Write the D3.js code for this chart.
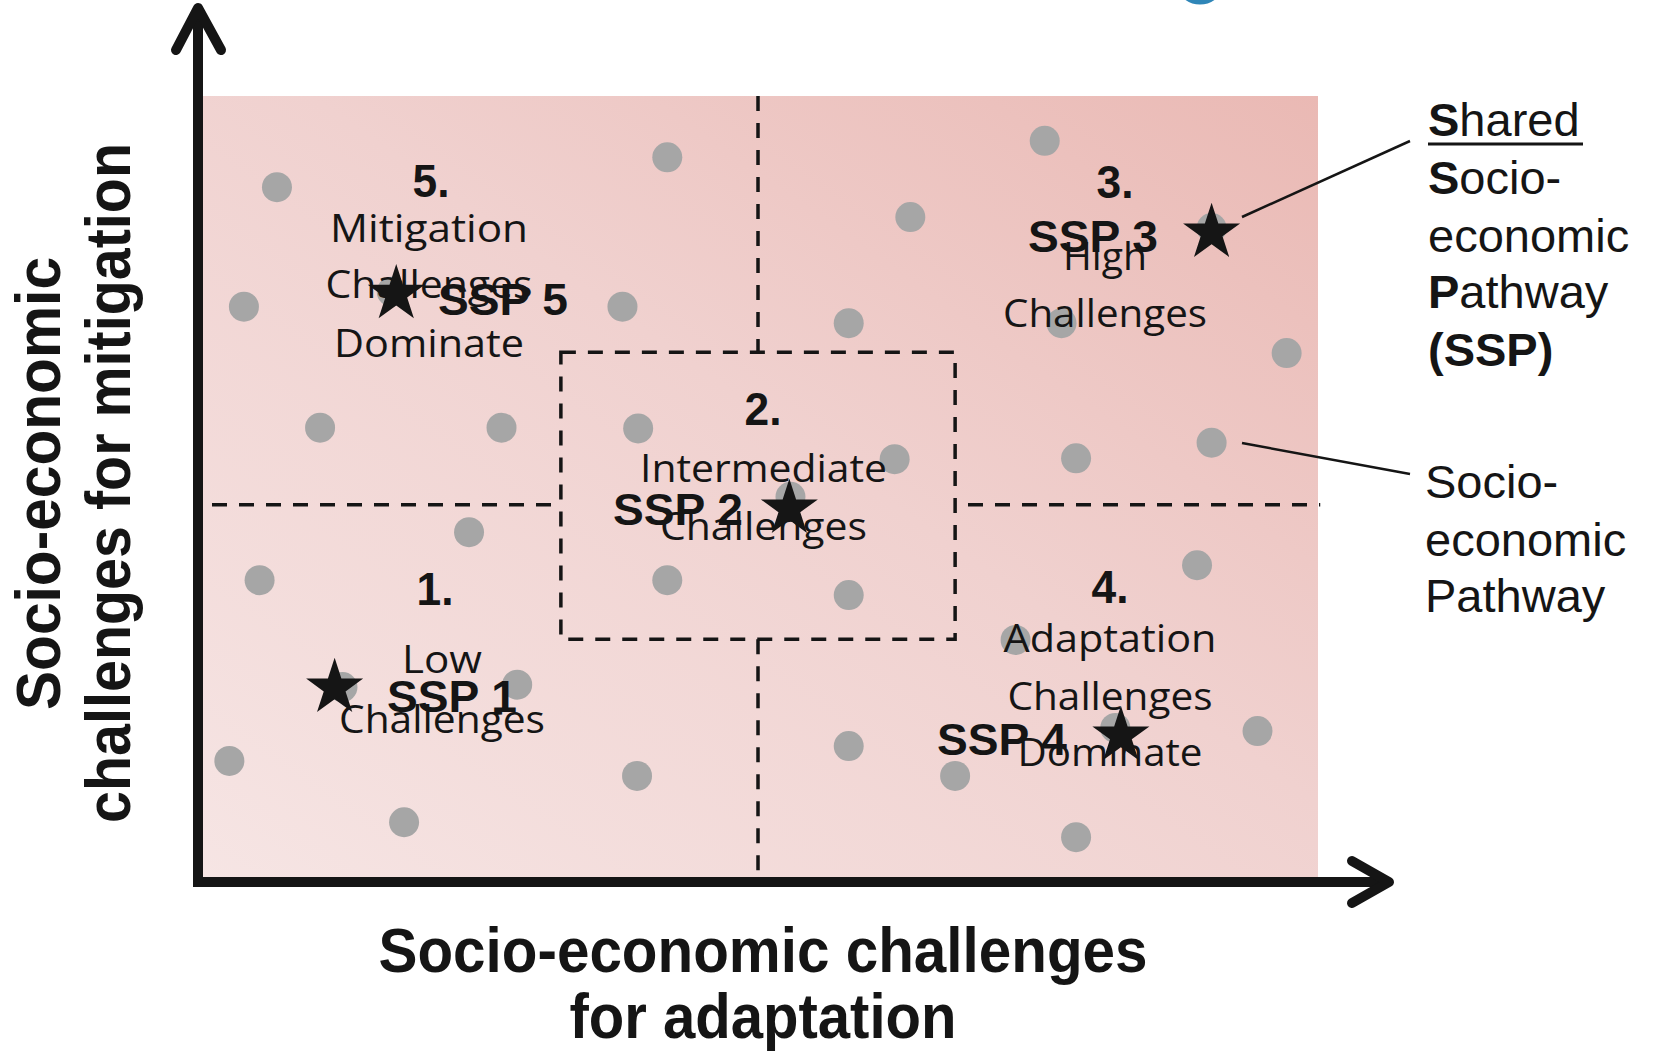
<!DOCTYPE html>
<html>
<head>
<meta charset="utf-8">
<script src="https://cdn.jsdelivr.net/npm/d3@7"></script>
<style>
  html, body { margin: 0; padding: 0; background: #fff; }
  svg { display: block; }
</style>
</head>
<body>
<div id="chart"></div>
<script>
// Socio-economic pathways (grey dots), in challenge units 0-100
const dotX = [7.05, 41.9, 4.1, 37.9, 10.9, 27.1, 39.3, 75.6, 63.6, 58.1, 77.1, 97.2,
  62.2, 78.4, 90.5, 24.2, 5.5, 41.9, 58.1, 89.2, 73.0, 28.5, 12.9, 2.8, 39.2, 18.4,
  58.1, 67.6, 78.4, 94.6, 81.9, 90.5, 52.9, 17.3];
const dotY = [88.4, 92.2, 73.2, 73.2, 57.8, 57.8, 57.7, 94.3, 84.6, 71.1, 71.1, 67.3,
  53.8, 53.9, 55.9, 44.5, 38.4, 38.4, 36.5, 40.3, 30.8, 25.1, 24.8, 15.4, 13.5, 7.6,
  17.3, 13.5, 5.7, 19.2, 19.6, 83.2, 49.0, 75.1];

// Shared pathways (stars)
const sspNames = ['SSP 1', 'SSP 2', 'SSP 3', 'SSP 4', 'SSP 5'];
const sspX = [12.2, 52.8, 90.5, 82.4, 17.7];
const sspY = [24.7, 47.5, 82.6, 18.6, 74.8];

// Quadrant / domain labels
const domainNums = ['1.', '2.', '3.', '4.', '5.'];
const domainText = [
  ['Low', 'Challenges'],
  ['Intermediate', 'Challenges'],
  ['High', 'Challenges'],
  ['Adaptation', 'Challenges', 'Dominate'],
  ['Mitigation', 'Challenges', 'Dominate']
];

// Partition of the space
const xSplit = 50;
const ySplit = 48;
const midBox = [32.4, 67.6, 30.9, 67.4]; // x0, x1, y0, y1

// Global constants
const W = 1655, H = 1051;
const plot = { left: 198, right: 1318, top: 96, bottom: 882 };

const x = d3.scaleLinear().domain([0, 100]).range([plot.left, plot.right]);
const y = d3.scaleLinear().domain([0, 100]).range([plot.bottom, plot.top]);

const ink = '#151515';

const svg = d3.select('#chart')
  .append('svg')
    .attr('width', W)
    .attr('height', H);

// background gradient
const defs = svg.append('defs');
const grad = defs.append('linearGradient')
  .attr('id', 'bg')
  .attr('x1', 0).attr('y1', 1)
  .attr('x2', 1).attr('y2', 0);
grad.append('stop').attr('offset', '0%').attr('stop-color', '#f6e5e4');
grad.append('stop').attr('offset', '55%').attr('stop-color', '#f0d1cf');
grad.append('stop').attr('offset', '100%').attr('stop-color', '#eab9b4');

svg.append('rect')
  .attr('x', x(0))
  .attr('y', y(100))
  .attr('width', x(100) - x(0))
  .attr('height', y(0) - y(100))
  .attr('fill', 'url(#bg)');

// little blue arc cut by the top edge
svg.append('ellipse')
  .attr('cx', 1200).attr('cy', -19)
  .attr('rx', 22).attr('ry', 21)
  .attr('fill', 'none')
  .attr('stroke', '#2f86b8')
  .attr('stroke-width', 5);

// dashed partition lines
const dashed = svg.append('g')
  .attr('fill', 'none')
  .attr('stroke', ink)
  .attr('stroke-width', 3.5)
  .attr('stroke-dasharray', '15,12');

const segs = [
  [xSplit, 100, xSplit, midBox[3]],
  [xSplit, midBox[2], xSplit, 0],
  [1.25, ySplit, midBox[0], ySplit],
  [midBox[1] + 1.15, ySplit, 100.2, ySplit]
];
dashed.selectAll('line')
  .data(segs)
  .enter().append('line')
    .attr('x1', d => x(d[0]))
    .attr('y1', d => y(d[1]))
    .attr('x2', d => x(d[2]))
    .attr('y2', d => y(d[3]));

dashed.append('rect')
  .attr('x', x(midBox[0]))
  .attr('y', y(midBox[3]))
  .attr('width', x(midBox[1]) - x(midBox[0]))
  .attr('height', y(midBox[2]) - y(midBox[3]));

// grey dots
svg.append('g')
  .selectAll('circle')
  .data(dotX.map((d, i) => [d, dotY[i]]))
  .enter().append('circle')
    .attr('cx', d => x(d[0]))
    .attr('cy', d => y(d[1]))
    .attr('r', 15)
    .attr('fill', '#a6a6a6');

// helper for fitted text
const label = (g, txt, px, py, opts) => {
  const t = g.append('text')
    .attr('x', px)
    .attr('y', py)
    .attr('text-anchor', opts.anchor || 'middle')
    .attr('font-family', opts.family)
    .attr('font-size', opts.size)
    .attr('font-weight', opts.weight || 'normal')
    .attr('fill', ink)
    .text(txt);
  if (opts.len) {
    t.attr('textLength', opts.len).attr('lengthAdjust', 'spacingAndGlyphs');
  }
  return t;
};

const calibriLike = { family: "'Open Sans', 'Noto Sans', sans-serif", size: 38 };
const boldSans = { family: "'Liberation Sans', Arial, sans-serif", size: 46, weight: 'bold' };

// domain label layout (pixel anchors, baselines)
const numPos = [[435, 605], [763, 425], [1115, 198], [1110, 603], [431, 197]];
const textPos = [
  { cx: 442, base: [673, 733], len: [80, 206] },
  { cx: 763.5, base: [482, 540], len: [247, 207] },
  { cx: 1105, base: [270, 327], len: [84, 204] },
  { cx: 1110, base: [652, 710, 766], len: [213, 205, 185] },
  { cx: 429, base: [242, 298, 357], len: [198, 207, 190] }
];

const labels = svg.append('g');
domainNums.forEach((n, i) => {
  label(labels, n, numPos[i][0], numPos[i][1], Object.assign({ len: 37 }, boldSans));
  domainText[i].forEach((line, j) => {
    label(labels, line, textPos[i].cx, textPos[i].base[j],
      Object.assign({ len: textPos[i].len[j] }, calibriLike));
  });
});

// stars
const star = d3.symbol().type(d3.symbolStar).size(1010);
svg.append('g')
  .selectAll('path')
  .data(sspX.map((d, i) => [d, sspY[i]]))
  .enter().append('path')
    .attr('d', star)
    .attr('transform', d => 'translate(' + x(d[0]) + ',' + y(d[1]) + ')')
    .attr('fill', ink);

// SSP names
const sspPos = [[387, 712], [613, 525], [1028, 252], [937, 755], [438, 315]];
sspNames.forEach((s, i) => {
  label(labels, s, sspPos[i][0], sspPos[i][1],
    { family: boldSans.family, size: 45, weight: 'bold', anchor: 'start', len: 130 });
});

// axes with open arrow heads
const axes = svg.append('g')
  .attr('fill', 'none')
  .attr('stroke', ink)
  .attr('stroke-width', 10);

axes.append('line')
  .attr('x1', x(0)).attr('y1', y(0) + 5)
  .attr('x2', x(0)).attr('y2', 10);
axes.append('line')
  .attr('x1', x(0) - 5).attr('y1', y(0))
  .attr('x2', 1386).attr('y2', y(0));
axes.append('path')
  .attr('d', 'M176,50 L198,8 L221,50')
  .attr('stroke-linecap', 'round')
  .attr('stroke-linejoin', 'round');
axes.append('path')
  .attr('d', 'M1352,861 L1389,882 L1352,903')
  .attr('stroke-linecap', 'round')
  .attr('stroke-linejoin', 'round');

// axis titles
const title = { family: boldSans.family, size: 63, weight: 'bold' };
label(svg, 'Socio-economic challenges', 763, 972, Object.assign({ len: 769 }, title));
label(svg, 'for adaptation', 763, 1038, Object.assign({ len: 387 }, title));

label(svg, 'Socio-economic', 0, 0, Object.assign({ len: 453 }, title))
  .attr('transform', 'translate(60,483.5) rotate(-90)');
label(svg, 'challenges for mitigation', 0, 0, Object.assign({ len: 680 }, title))
  .attr('transform', 'translate(130,483) rotate(-90)');

// legend on the right
const legend = svg.append('g')
  .attr('font-family', boldSans.family)
  .attr('font-size', 47)
  .attr('fill', ink);

const legendLines = [
  [['S', 'bold'], ['hared', 'normal']],
  [['S', 'bold'], ['ocio-', 'normal']],
  [['economic', 'normal']],
  [['P', 'bold'], ['athway', 'normal']],
  [['(SSP)', 'bold']]
];
const legendBase = [136, 194, 252, 308, 366];
legendLines.forEach((parts, i) => {
  const t = legend.append('text').attr('x', 1428).attr('y', legendBase[i]);
  parts.forEach(p => t.append('tspan').attr('font-weight', p[1]).text(p[0]));
});
legend.append('line')
  .attr('x1', 1428).attr('x2', 1583)
  .attr('y1', 144).attr('y2', 144)
  .attr('stroke', ink).attr('stroke-width', 3);

['Socio-', 'economic', 'Pathway'].forEach((s, i) => {
  legend.append('text')
    .attr('x', 1425)
    .attr('y', [498, 556, 612][i])
    .text(s);
});

// leader lines
svg.append('g')
  .attr('stroke', ink)
  .attr('stroke-width', 2.5)
  .selectAll('line')
  .data([[1242, 217, 1410, 141], [1242, 443, 1410, 474]])
  .enter().append('line')
    .attr('x1', d => d[0]).attr('y1', d => d[1])
    .attr('x2', d => d[2]).attr('y2', d => d[3]);
</script>
</body>
</html>
